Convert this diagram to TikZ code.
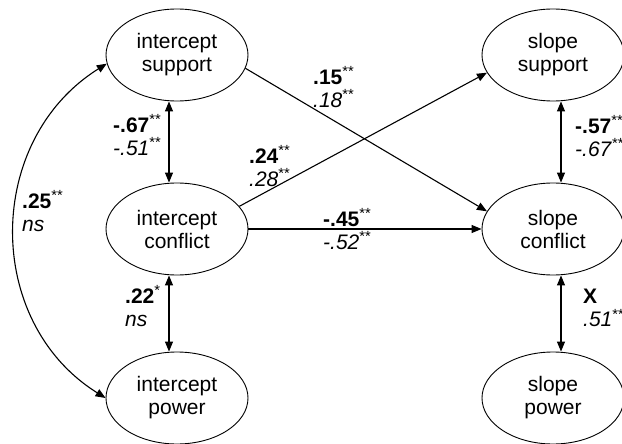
\documentclass[tikz,border=0pt]{standalone}
\usepackage{fontspec}
\setmainfont{Liberation Sans}
\usetikzlibrary{arrows.meta,shapes.geometric}
\newcommand{\sig}[1]{\textsuperscript{#1}}

\begin{document}
\begin{tikzpicture}[x=1pt,y=-1pt]
    \tikzstyle{latent}=[draw=black,line width=0.9pt,ellipse,minimum width=142pt,minimum height=92pt,inner sep=0pt,align=center,font=\fontsize{21}{23}\selectfont]
    \tikzstyle{coef}=[anchor=west,inner sep=0pt,align=left,font=\fontsize{21}{23}\selectfont]
    \tikzstyle{effect}=[line width=1.1pt,-{Triangle[length=10pt,width=8pt]}]
    \tikzstyle{corr}=[line width=1.1pt,{Triangle[length=10pt,width=8pt]}-{Triangle[length=10pt,width=8pt]}]

    \useasboundingbox (0,0) rectangle (622,444);

    \node[latent] at (177,55) (is) {intercept\\support};
    \node[latent] at (177,229) (ic) {intercept\\conflict};
    \node[latent] at (177,398) (ip) {intercept\\power};
    \node[latent] at (553,55) (ss) {slope\\support};
    \node[latent] at (553,229) (sc) {slope\\conflict};
    \node[latent] at (553,398) (sp) {slope\\power};

    \draw[effect] (is.-11) -- (sc.165);
    \draw[effect] (ic.20) -- (ss.195);
    \draw[effect] (ic.east) -- (sc.west);
    \draw[corr] ([xshift=-8pt]is.south) -- ([xshift=-8pt]ic.north);
    \draw[corr] ([xshift=-8pt]ic.south) -- ([xshift=-8pt]ip.north);
    \draw[corr] ([xshift=8pt]ss.south) -- ([xshift=8pt]sc.north);
    \draw[corr] ([xshift=8pt]sc.south) -- ([xshift=8pt]sp.north);
    \draw[corr] (is.187) to[out=212,in=148,looseness=1.1] (ip.west);

    \node[coef] at (113,135) (c1) {\textbf{-.67}\sig{**}\\\textit{-.51}\sig{**}};
    \node[coef] at (313,87) (c2) {\textbf{.15}\sig{**}\\\textit{.18}\sig{**}};
    \node[coef] at (249,166) (c3) {\textbf{.24}\sig{**}\\\textit{.28}\sig{**}};
    \node[coef] at (323,229) (c4) {\textbf{-.45}\sig{**}\\\textit{-.52}\sig{**}};
    \node[coef] at (575,136) (c5) {\textbf{-.57}\sig{**}\\\textit{-.67}\sig{**}};
    \node[coef] at (583,308) (c6) {\textbf{X}\\\textit{.51}\sig{**}};
    \node[coef] at (125,306) (c7) {\textbf{.22}\sig{*}\\\textit{ns}};
    \node[coef] at (22,211) (c8) {\textbf{.25}\sig{**}\\\textit{ns}};
\end{tikzpicture}
\end{document}
